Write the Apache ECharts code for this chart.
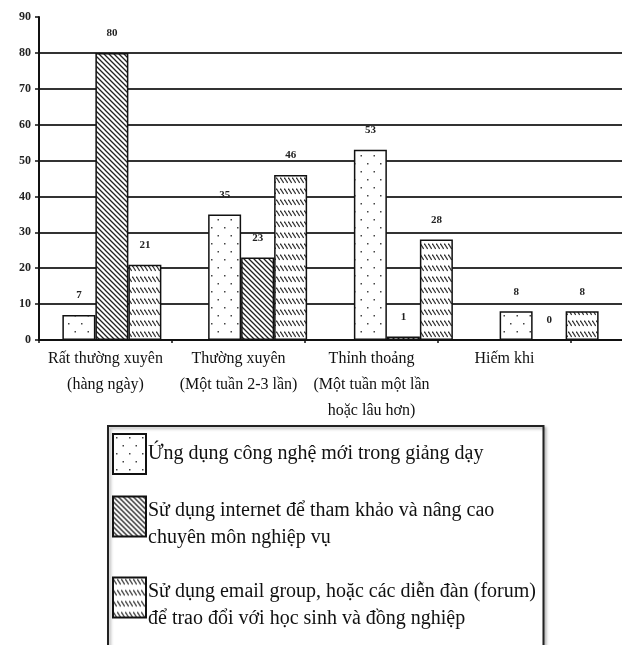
<!DOCTYPE html>
<html>
<head>
<meta charset="utf-8">
<script src="https://cdn.jsdelivr.net/npm/echarts@6/dist/echarts.min.js"></script>
<style>html,body{margin:0;padding:0;background:#fff}#main{width:622px;height:645px}</style>
</head>
<body>
<div id="main"></div>
<script>
const categories = ['Rất thường xuyên\n(hàng ngày)', 'Thường xuyên\n(Một tuần 2-3 lần)', 'Thỉnh thoảng\n(Một tuần một lần\nhoặc lâu hơn)', 'Hiếm khi'];
const seriesNames = [
  'Ứng dụng công nghệ mới trong giảng dạy',
  'Sử dụng internet để tham khảo và nâng cao chuyên môn nghiệp vụ',
  'Sử dụng email group, hoặc các diễn đàn (forum) để trao đổi với học sinh và đồng nghiệp'
];
const legendLines = [
  ['Ứng dụng công nghệ mới trong giảng dạy'],
  ['Sử dụng internet để tham khảo và nâng cao', 'chuyên môn nghiệp vụ'],
  ['Sử dụng email group, hoặc các diễn đàn (forum)', 'để trao đổi với học sinh và đồng nghiệp']
];
const valuesNewTech = [7, 35, 53, 8];
const valuesInternet = [80, 23, 1, 0];
const valuesEmail = [21, 46, 28, 8];
const yMin = 0, yMax = 90, yStep = 10;

function makePattern(kind) {
  const c = document.createElement('canvas');
  const ctx = c.getContext('2d');
  if (kind === 'dots') {
    c.width = 13; c.height = 16;
    ctx.fillStyle = '#fff'; ctx.fillRect(0, 0, 13, 16);
    ctx.fillStyle = '#444';
    ctx.fillRect(3, 3, 1.5, 1.5);
    ctx.fillRect(9.5, 11, 1.5, 1.5);
  } else if (kind === 'hatch') {
    c.width = 5; c.height = 5;
    ctx.fillStyle = '#fff'; ctx.fillRect(0, 0, 5, 5);
    ctx.strokeStyle = '#222'; ctx.lineWidth = 1.3;
    ctx.beginPath();
    ctx.moveTo(-1, -1); ctx.lineTo(6, 6);
    ctx.moveTo(-1, 4); ctx.lineTo(1, 6);
    ctx.moveTo(4, -1); ctx.lineTo(6, 1);
    ctx.stroke();
  } else {
    c.width = 4; c.height = 11;
    ctx.fillStyle = '#fff'; ctx.fillRect(0, 0, 4, 11);
    ctx.strokeStyle = '#333'; ctx.lineWidth = 1.3;
    ctx.beginPath();
    ctx.moveTo(0.3, 1.5); ctx.lineTo(3.7, 7);
    ctx.stroke();
  }
  return { image: c, repeat: 'repeat' };
}

const serif = '"Liberation Serif", "DejaVu Serif", serif';
const labelStyle = { show: true, position: 'top', distance: 14, fontFamily: serif, fontWeight: 'bold', fontSize: 11, color: '#222' };

function barSeries(name, data, pattern) {
  return {
    name: name, type: 'bar', data: data, xAxisIndex: 0, yAxisIndex: 0,
    barWidth: 33, barGap: '0%',
    itemStyle: { color: makePattern(pattern), borderColor: '#111', borderWidth: 1.5 },
    label: labelStyle
  };
}

function legendFor(i, top, extra) {
  return Object.assign({
    orient: 'vertical', left: 108, top: top,
    data: [seriesNames[i]],
    formatter: function (name) {
      const lines = legendLines[seriesNames.indexOf(name)];
      const body = lines.map(function (l) { return '{t|' + l + '}'; }).join('\n');
      return lines.length > 1 ? '{s| }\n' + body : body;
    },
    itemWidth: 33, itemHeight: 40,
    padding: [0, 0, 0, 4],
    selectedMode: false,
    icon: 'rect',
    z: 5,
    textStyle: {
      fontFamily: serif, fontSize: 20, color: '#111', padding: [0, 0, 0, -3],
      rich: {
        t: { fontFamily: serif, fontSize: 20, lineHeight: 27, color: '#111' },
        s: { fontSize: 4, lineHeight: 15 }
      }
    }
  }, extra || {});
}

const chart = echarts.init(document.getElementById('main'));
chart.setOption({
  animation: false,
  backgroundColor: '#fff',
  grid: [
    { left: 39, top: 17, height: 323, width: 592 },
    { left: 39, top: 17, height: 323, width: 532 }
  ],
  xAxis: [
    { type: 'category', gridIndex: 0, data: categories,
      axisLine: { show: true, lineStyle: { color: '#111', width: 2 } },
      axisTick: { show: false }, axisLabel: { show: false } },
    { type: 'category', gridIndex: 1, data: categories,
      axisLine: { show: false },
      axisTick: { show: true, alignWithLabel: false, length: 3, lineStyle: { color: '#111', width: 1.5 } },
      axisLabel: { show: true, interval: 0, margin: 6, fontFamily: serif, fontSize: 16, lineHeight: 26, color: '#111' } }
  ],
  yAxis: [
    { type: 'value', gridIndex: 0, min: yMin, max: yMax, interval: yStep,
      axisLine: { show: true, lineStyle: { color: '#111', width: 2 } },
      axisTick: { show: true, length: 4, lineStyle: { color: '#111', width: 1.5 } },
      axisLabel: { margin: 8, fontFamily: serif, fontWeight: 'bold', fontSize: 12, color: '#222' },
      splitLine: { show: true, showMaxLine: false, lineStyle: { color: '#333', width: 2 } } },
    { type: 'value', gridIndex: 1, min: yMin, max: yMax, show: false }
  ],
  legend: [
    legendFor(0, 426, {
      padding: [7, 60, 240, 4],
      z: 3,
      backgroundColor: '#fff', borderColor: '#222', borderWidth: 2,
      shadowColor: 'rgba(0,0,0,0.3)', shadowBlur: 3, shadowOffsetX: 2, shadowOffsetY: 2
    }),
    legendFor(1, 487.5),
    legendFor(2, 568.5)
  ],
  series: [
    barSeries(seriesNames[0], valuesNewTech, 'dots'),
    barSeries(seriesNames[1], valuesInternet, 'hatch'),
    barSeries(seriesNames[2], valuesEmail, 'wave')
  ]
});
</script>
</body>
</html>
